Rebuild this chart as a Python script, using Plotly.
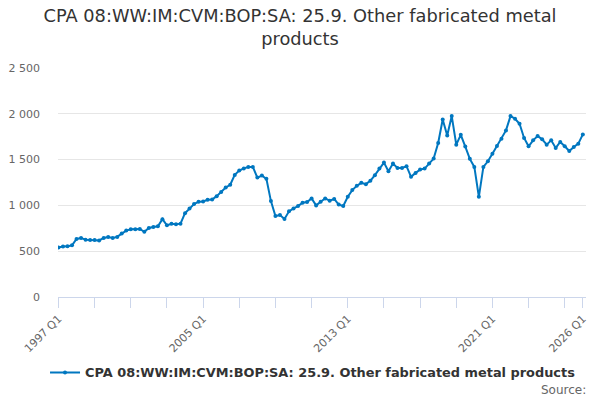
import plotly.graph_objects as go

# quarterly series, 1997 Q1 .. 2026 Q1
first_year = 1997
values = [
    540, 551, 553, 565, 634, 645, 625, 622, 622, 617,
    645, 656, 645, 656, 692, 725, 739, 740, 743, 712,
    754, 765, 772, 850, 782, 799, 795, 801, 915, 965,
    1014, 1040, 1043, 1062, 1065, 1101, 1145, 1196, 1225, 1333,
    1380, 1404, 1418, 1420, 1304, 1326, 1290, 1047, 884, 895,
    851, 935, 967, 993, 1029, 1036, 1076, 1000, 1040, 1076,
    1052, 1070, 1009, 993, 1094, 1167, 1214, 1246, 1232, 1268,
    1330, 1402, 1467, 1373, 1457, 1409, 1409, 1428, 1312, 1355,
    1391, 1402, 1457, 1511, 1681, 1938, 1764, 1975, 1663, 1770,
    1642, 1508, 1420, 1094, 1420, 1482, 1565, 1649, 1728, 1819,
    1975, 1946, 1891, 1736, 1645, 1710, 1757, 1721, 1663, 1710,
    1627, 1692, 1645, 1594, 1638, 1674, 1775,
]
quarters = ["%d Q%d" % (first_year + i // 4, i % 4 + 1) for i in range(len(values))]
tick_labels = ["1997 Q1", "2005 Q1", "2013 Q1", "2021 Q1", "2026 Q1"]
series_name = "CPA 08:WW:IM:CVM:BOP:SA: 25.9. Other fabricated metal products"

idx = list(range(len(values)))
tick_pos = [quarters.index(t) for t in tick_labels]

fig = go.Figure()
fig.add_trace(go.Scatter(
    x=idx, y=values, mode="lines+markers", name=series_name,
    line=dict(color="#0077c0", width=2),
    marker=dict(color="#0077c0", size=4),
    text=quarters, hovertemplate="%{text}: %{y}<extra></extra>",
))

fig.update_layout(
    width=600, height=400,
    margin=dict(l=58, r=14, t=68, b=103, autoexpand=False),
    paper_bgcolor="white", plot_bgcolor="white",
    separators=". ",
    font=dict(family="DejaVu Sans, sans-serif", color="#666666"),
    title=dict(
        text="CPA 08:WW:IM:CVM:BOP:SA: 25.9. Other fabricated metal<br>products",
        x=0.5, xanchor="center", y=0.945, yanchor="top",
        font=dict(size=17.8, color="#333333"),
    ),
    showlegend=True,
    legend=dict(
        orientation="h", x=0.483, xanchor="center", y=-0.33, yanchor="middle",
        itemwidth=30,
        font=dict(size=12.9, color="#333333", weight="bold"),
    ),
    annotations=[dict(
        text="Source:", xref="paper", yref="paper", x=1.004, y=-0.405,
        xanchor="right", yanchor="middle", showarrow=False,
        font=dict(size=12, color="#666666"),
    )],
)

fig.update_xaxes(
    range=[-0.1, 116.7], automargin=False,
    tickvals=tick_pos, ticktext=tick_labels, tickangle=-45,
    tickfont=dict(size=11, color="#666666"),
    showgrid=False, zeroline=False,
    showline=True, linecolor="#ccd6eb", linewidth=1,
    ticks="outside", ticklen=10, tickcolor="#ccd6eb",
    minor=dict(ticks="outside", ticklen=10, tickcolor="#ccd6eb", tick0=0, dtick=8, showgrid=False),
)
fig.update_yaxes(
    range=[0, 2500], dtick=500, tickformat=",", automargin=False,
    tickfont=dict(size=11, color="#666666"),
    showgrid=True, gridcolor="#e6e6e6", gridwidth=1,
    zeroline=False, showline=False, ticklabelstandoff=17,
)

# drop the page's default body margin so the figure sits at the window corner
fig.write_html("out.html", config={"displayModeBar": False},
               post_script="document.body.style.margin='0';")
